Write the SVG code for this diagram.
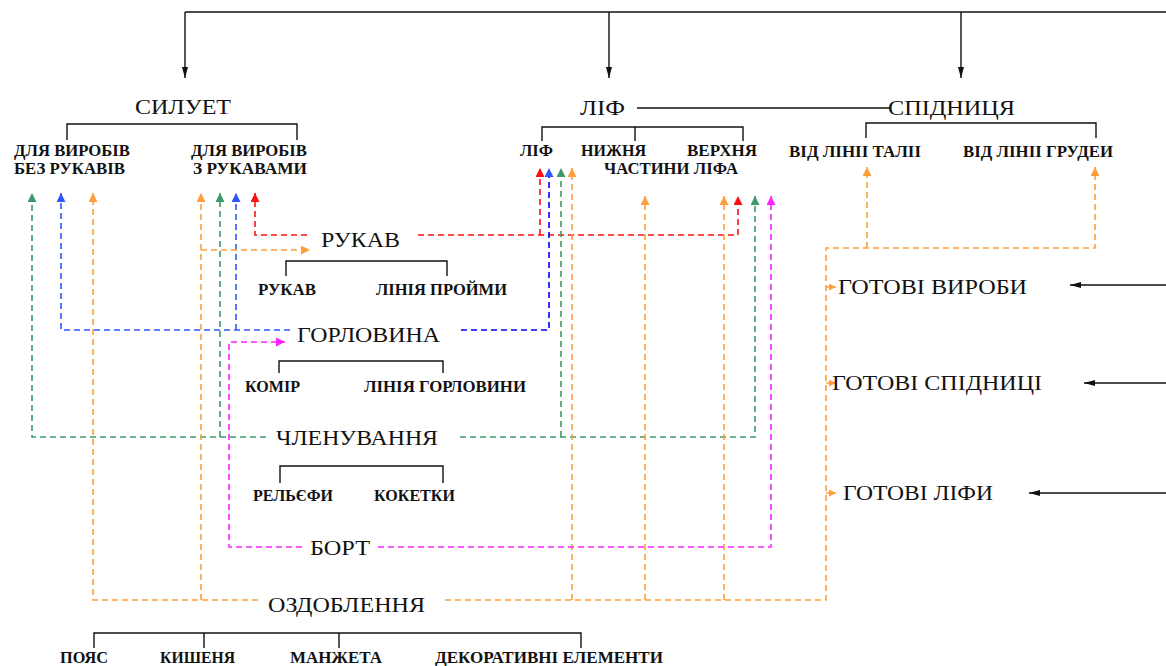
<svg xmlns="http://www.w3.org/2000/svg" width="1166" height="666" viewBox="0 0 1166 666">
<style>
.m{font-family:"Liberation Serif","Times New Roman",serif;font-size:22px;fill:#111}
.s{font-family:"Liberation Serif","Times New Roman",serif;font-size:17px;font-weight:bold;fill:#111}
.k{fill:none;stroke:#111;stroke-width:1.4}
.d{fill:none;stroke-width:1.6;stroke-dasharray:6 4}
.r{stroke:#ff1010}.b{stroke:#2f55ff}.g{stroke:#3a9a6a}.o{stroke:#ff9e3a}.p{stroke:#ff20ff}
</style>
<defs>
<marker id="ak" markerUnits="userSpaceOnUse" markerWidth="12" markerHeight="8" refX="11" refY="4" orient="auto"><path d="M0,1 L11,4 L0,7 Z" fill="#111"/></marker>
<marker id="ar" markerUnits="userSpaceOnUse" markerWidth="10" markerHeight="9" refX="9" refY="4.5" orient="auto"><path d="M0,0 L9,4.5 L0,9 Z" fill="#ff1010"/></marker>
<marker id="ab" markerUnits="userSpaceOnUse" markerWidth="10" markerHeight="9" refX="9" refY="4.5" orient="auto"><path d="M0,0 L9,4.5 L0,9 Z" fill="#2f55ff"/></marker>
<marker id="ag" markerUnits="userSpaceOnUse" markerWidth="10" markerHeight="9" refX="9" refY="4.5" orient="auto"><path d="M0,0 L9,4.5 L0,9 Z" fill="#3a9a6a"/></marker>
<marker id="ao" markerUnits="userSpaceOnUse" markerWidth="10" markerHeight="9" refX="9" refY="4.5" orient="auto"><path d="M0,0 L9,4.5 L0,9 Z" fill="#ff9e3a"/></marker>
<marker id="aos" markerUnits="userSpaceOnUse" markerWidth="8" markerHeight="7" refX="7" refY="3.5" orient="auto"><path d="M0,0 L7,3.5 L0,7 Z" fill="#ff9e3a"/></marker>
<marker id="ap" markerUnits="userSpaceOnUse" markerWidth="10" markerHeight="9" refX="9" refY="4.5" orient="auto"><path d="M0,0 L9,4.5 L0,9 Z" fill="#ff20ff"/></marker>
</defs>

<g id="connectors">
<path class="k" d="M185,12 H1166"/>
<path class="k" d="M185,12 V78" marker-end="url(#ak)"/>
<path class="k" d="M609,12 V78" marker-end="url(#ak)"/>
<path class="k" d="M961,12 V78" marker-end="url(#ak)"/>
<path class="k" d="M637,108 H890"/>
<path class="k" d="M67,140 V124 H297 V140"/>
<path class="k" d="M542,141 V127 H743 V141 M635,127 V141"/>
<path class="k" d="M866,138 V123 H1096 V138"/>
<path class="k" d="M286,276 V261 H447 V276"/>
<path class="k" d="M279,373 V361 H443 V373"/>
<path class="k" d="M280,483 V466 H443 V483"/>
<path class="k" d="M94,648 V633 H581 V648 M204,633 V648 M339,633 V648"/>
<path class="k" d="M1166,285 H1070" marker-end="url(#ak)"/>
<path class="k" d="M1166,383 H1084" marker-end="url(#ak)"/>
<path class="k" d="M1166,493 H1029" marker-end="url(#ak)"/>
<path class="d r" d="M307,235 H255 V193" marker-end="url(#ar)"/>
<path class="d r" d="M418,235 H738 V196" marker-end="url(#ar)"/>
<path class="d r" d="M540,235 V168" marker-end="url(#ar)"/>
<path class="d b" d="M290,330 H61 V193" marker-end="url(#ab)"/>
<path class="d b" d="M236,330 V193" marker-end="url(#ab)"/>
<path class="d" style="stroke:#0000ff" d="M461,330 H549 V168" marker-end="url(#ab)"/>
<path class="d g" d="M266,437 H32 V193" marker-end="url(#ag)"/>
<path class="d g" d="M220,437 V193" marker-end="url(#ag)"/>
<path class="d g" d="M460,437 H755 V196" marker-end="url(#ag)"/>
<path class="d g" d="M561,437 V168" marker-end="url(#ag)"/>
<path class="d o" d="M258,600 H93 V193" marker-end="url(#ao)"/>
<path class="d o" d="M201,600 V193" marker-end="url(#ao)"/>
<path class="d o" d="M201,250 H310" marker-end="url(#ao)"/>
<path class="d o" d="M445,600 H826 V248 H1095 V167" marker-end="url(#ao)"/>
<path class="d o" d="M867,248 V167" marker-end="url(#ao)"/>
<path class="d o" d="M572,600 V168" marker-end="url(#ao)"/>
<path class="d o" d="M645,600 V196" marker-end="url(#ao)"/>
<path class="d o" d="M724,600 V196" marker-end="url(#ao)"/>
<path class="o" stroke-width="1.4" d="M826,287 H836" marker-end="url(#aos)"/>
<path class="o" stroke-width="1.4" d="M826,383 H836" marker-end="url(#aos)"/>
<path class="o" stroke-width="1.4" d="M826,493 H836" marker-end="url(#aos)"/>
<path class="d p" d="M302,547 H229 V342 H285" marker-end="url(#ap)"/>
<path class="d p" d="M378,547 H771 V196" marker-end="url(#ap)"/>
</g>

<g id="n-syluet"><text class="m" x="135" y="114" textLength="96" lengthAdjust="spacingAndGlyphs">СИЛУЕТ</text></g>
<g id="n-lif"><text class="m" x="580" y="115" textLength="45" lengthAdjust="spacingAndGlyphs">ЛІФ</text></g>
<g id="n-spidnytsia"><text class="m" x="888" y="115" textLength="127" lengthAdjust="spacingAndGlyphs">СПІДНИЦЯ</text></g>

<g id="n-bez-rukaviv">
<text class="s" x="14" y="156" textLength="116" lengthAdjust="spacingAndGlyphs">ДЛЯ ВИРОБІВ</text>
<text class="s" x="14" y="174" textLength="111" lengthAdjust="spacingAndGlyphs">БЕЗ РУКАВІВ</text>
</g>
<g id="n-z-rukavamy">
<text class="s" x="191" y="156" textLength="116" lengthAdjust="spacingAndGlyphs">ДЛЯ ВИРОБІВ</text>
<text class="s" x="193" y="174" textLength="114" lengthAdjust="spacingAndGlyphs">З РУКАВАМИ</text>
</g>
<g id="n-lif-sub"><text class="s" x="520" y="156" textLength="33" lengthAdjust="spacingAndGlyphs">ЛІФ</text></g>
<g id="n-chastyny">
<text class="s" x="581" y="156" textLength="65" lengthAdjust="spacingAndGlyphs">НИЖНЯ</text>
<text class="s" x="687" y="156" textLength="70" lengthAdjust="spacingAndGlyphs">ВЕРХНЯ</text>
<text class="s" x="604" y="174" textLength="134" lengthAdjust="spacingAndGlyphs">ЧАСТИНИ ЛІФА</text>
</g>
<g id="n-talii"><text class="s" x="789" y="157" textLength="132" lengthAdjust="spacingAndGlyphs">ВІД ЛІНІІ ТАЛІІ</text></g>
<g id="n-grudei"><text class="s" x="963" y="157" textLength="150" lengthAdjust="spacingAndGlyphs">ВІД ЛІНІІ ГРУДЕИ</text></g>

<g id="n-rukav"><text class="m" x="321" y="247" textLength="79" lengthAdjust="spacingAndGlyphs">РУКАВ</text></g>
<g id="n-rukav-sub">
<text class="s" x="258" y="295" textLength="58" lengthAdjust="spacingAndGlyphs">РУКАВ</text>
<text class="s" x="376" y="295" textLength="131" lengthAdjust="spacingAndGlyphs">ЛІНІЯ ПРОЙМИ</text>
</g>
<g id="n-gorlovyna"><text class="m" x="297" y="342" textLength="143" lengthAdjust="spacingAndGlyphs">ГОРЛОВИНА</text></g>
<g id="n-gorlovyna-sub">
<text class="s" x="245" y="392" textLength="55" lengthAdjust="spacingAndGlyphs">КОМІР</text>
<text class="s" x="364" y="392" textLength="162" lengthAdjust="spacingAndGlyphs">ЛІНІЯ ГОРЛОВИНИ</text>
</g>
<g id="n-chlenuvannia"><text class="m" x="276" y="445" textLength="162" lengthAdjust="spacingAndGlyphs">ЧЛЕНУВАННЯ</text></g>
<g id="n-chlenuvannia-sub">
<text class="s" x="253" y="501" textLength="80" lengthAdjust="spacingAndGlyphs">РЕЛЬЄФИ</text>
<text class="s" x="374" y="501" textLength="81" lengthAdjust="spacingAndGlyphs">КОКЕТКИ</text>
</g>
<g id="n-bort"><text class="m" x="310" y="555" textLength="60" lengthAdjust="spacingAndGlyphs">БОРТ</text></g>
<g id="n-ozdoblennia"><text class="m" x="268" y="612" textLength="157" lengthAdjust="spacingAndGlyphs">ОЗДОБЛЕННЯ</text></g>
<g id="n-ozdoblennia-sub">
<text class="s" x="60" y="663" textLength="48" lengthAdjust="spacingAndGlyphs">ПОЯС</text>
<text class="s" x="160" y="663" textLength="75" lengthAdjust="spacingAndGlyphs">КИШЕНЯ</text>
<text class="s" x="290" y="663" textLength="92" lengthAdjust="spacingAndGlyphs">МАНЖЕТА</text>
<text class="s" x="435" y="663" textLength="228" lengthAdjust="spacingAndGlyphs">ДЕКОРАТИВНІ ЕЛЕМЕНТИ</text>
</g>

<g id="n-gotovi-vyroby"><text class="m" x="838" y="294" textLength="189" lengthAdjust="spacingAndGlyphs">ГОТОВІ ВИРОБИ</text></g>
<g id="n-gotovi-spidnytsi"><text class="m" x="832" y="390" textLength="210" lengthAdjust="spacingAndGlyphs">ГОТОВІ СПІДНИЦІ</text></g>
<g id="n-gotovi-lify"><text class="m" x="843" y="500" textLength="150" lengthAdjust="spacingAndGlyphs">ГОТОВІ ЛІФИ</text></g>
</svg>
